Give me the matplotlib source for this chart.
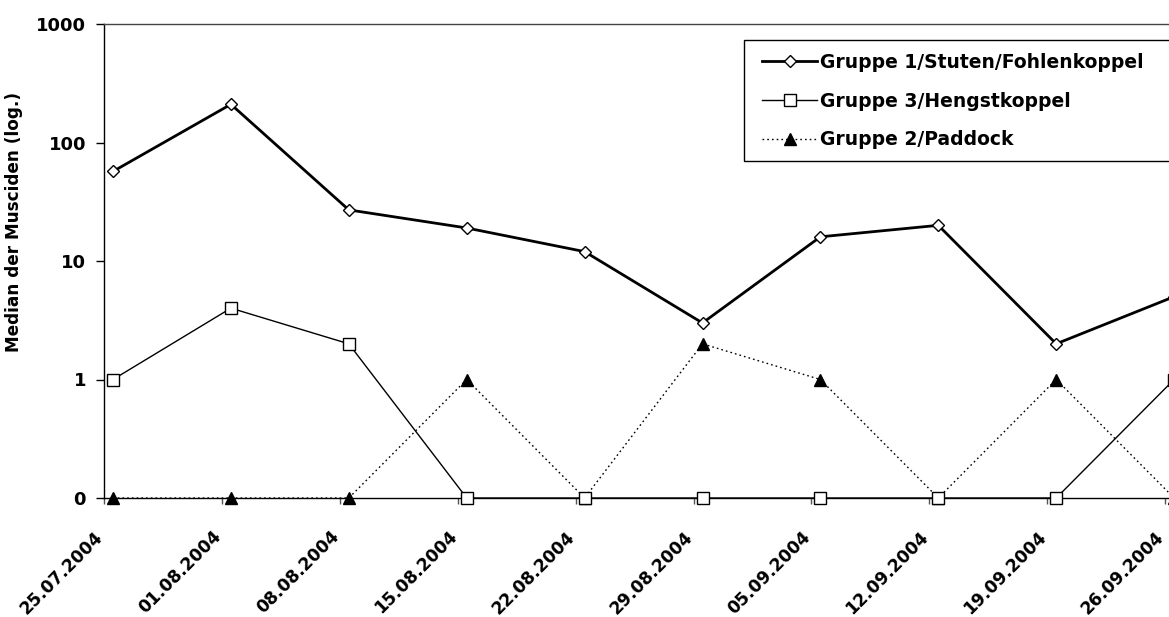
import matplotlib
matplotlib.use("Agg")
import matplotlib.pyplot as plt
import numpy as np
from matplotlib.patches import Rectangle
from matplotlib.ticker import FixedLocator, NullLocator

# Sampling dates (weekly)
dates = ["25.07.2004", "01.08.2004", "08.08.2004", "15.08.2004", "22.08.2004",
         "29.08.2004", "05.09.2004", "12.09.2004", "19.09.2004", "26.09.2004"]

# Median fly counts per group
gruppe1 = [57, 210, 27, 19, 12, 3, 16, 20, 2, 5]
gruppe3 = [1, 4, 2, 0, 0, 0, 0, 0, 0, 1]
gruppe2 = [0, 0, 0, 1, 0, 2, 1, 0, 1, 0]

labels = ["Gruppe 1/Stuten/Fohlenkoppel", "Gruppe 3/Hengstkoppel", "Gruppe 2/Paddock"]

# Log axis: zero counts sit on the bottom of the axis (0.1, labelled "0")
FLOOR = 0.1
ytick_vals = [0.1, 1, 10, 100, 1000]
ytick_labels = ["0", "1", "10", "100", "1000"]

def on_log(values):
    return [v if v > 0 else FLOOR for v in values]

W, H = 1169, 617
fig = plt.figure(figsize=(W / 100, H / 100), dpi=100)
plt.rcParams['font.family'] = ['DejaVu Sans']

left_px, top_px, bottom_px = 104, 24, 498
step_px = 117.9
ax = fig.add_axes([left_px / W, 1 - bottom_px / H, (W - left_px) / W, (bottom_px - top_px) / H])

x = np.arange(len(dates))
ax.plot(x, on_log(gruppe2), color="black", lw=1.0, ls=(0, (1.2, 2.2)),
        marker="^", ms=8, mfc="black", mec="black", label=labels[2], zorder=3, clip_on=False)
ax.plot(x, on_log(gruppe3), color="black", lw=1.0,
        marker="s", ms=8.5, mfc="white", mec="black", mew=1.0, label=labels[1], zorder=4, clip_on=False)
ax.plot(x, on_log(gruppe1), color="black", lw=2.0,
        marker="D", ms=6.3, mfc="white", mec="black", mew=1.0, label=labels[0], zorder=5, clip_on=False)

ax.set_yscale("log")
ax.set_ylim(0.1, 1000)
ax.yaxis.set_major_locator(FixedLocator(ytick_vals))
ax.yaxis.set_minor_locator(NullLocator())
ax.set_yticklabels(ytick_labels)

offset = 9 / step_px
ax.set_xlim(-offset, (W - left_px) / step_px - offset)
ax.set_xticks(x - offset)
ax.set_xticklabels(dates, rotation=45, ha="right", va="baseline", rotation_mode="anchor")

for lab in ax.get_xticklabels():
    lab.set_fontweight("bold")
    lab.set_fontsize(12.3)
for lab in ax.get_yticklabels():
    lab.set_fontweight("bold")
    lab.set_fontsize(13)

ax.tick_params(axis="y", direction="out", length=6, width=1, pad=7)
ax.tick_params(axis="x", direction="out", length=4.5, width=1, color="#555555", pad=24)

ax.spines["right"].set_visible(False)
for s in ("left", "top", "bottom"):
    ax.spines[s].set_linewidth(1.0)
    ax.spines[s].set_color("black")
ax.spines["top"].set_color("#444444")

ax.set_ylabel("Median der Musciden (log.)", fontsize=12.2, fontweight="bold")
ax.yaxis.set_label_coords(23.5 / W, 1 - 222 / H, transform=fig.transFigure)

# Legend box
fig.patches.append(Rectangle((744 / W, 1 - 161 / H), (W + 20 - 744) / W, (161 - 40) / H,
                             transform=fig.transFigure, fill=True, facecolor="white",
                             edgecolor="black", lw=1.0, zorder=6))
handles, labs = ax.get_legend_handles_labels()
order = [2, 1, 0]
leg = fig.legend([handles[i] for i in order], [labs[i] for i in order],
                 loc="upper left", bbox_to_anchor=(762 / W, 1 - 53 / H),
                 frameon=False, handlelength=2.95, handletextpad=0.15, labelspacing=1.05,
                 borderpad=0, borderaxespad=0, prop={"weight": "bold", "size": 13.5})
leg.set_zorder(7)

fig.savefig("out.png", dpi=100)
